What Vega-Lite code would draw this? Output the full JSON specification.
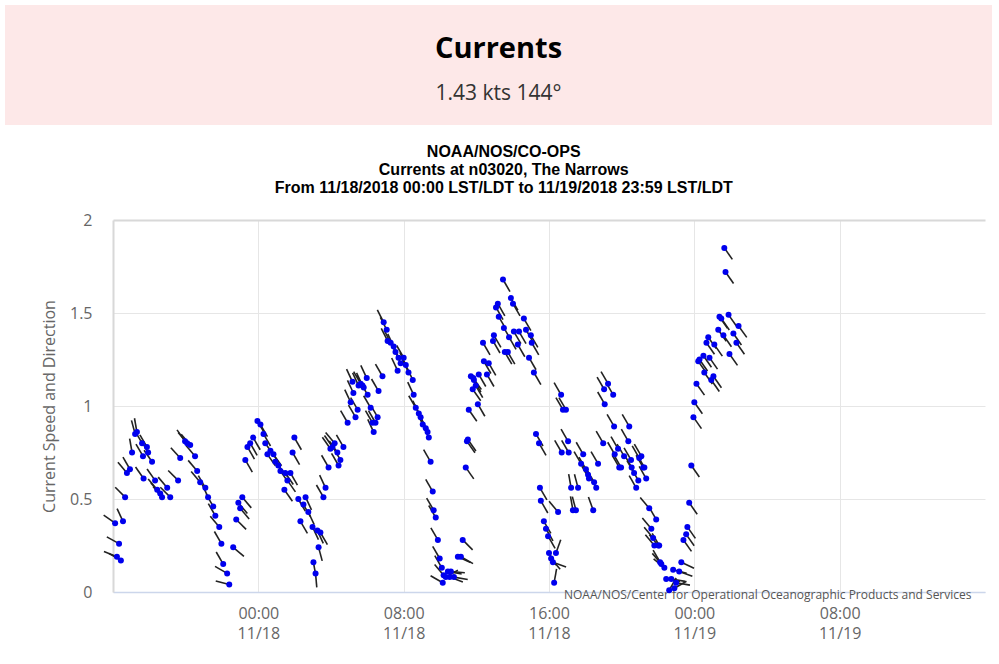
{
"$schema": "https://vega.github.io/schema/vega-lite/v6.json",
"background": "white",
"padding": {"left": 5, "top": 5, "right": 5, "bottom": 5},
"columns": 1,
"bounds": "full",
"spacing": 19,
"config": {"view": {"stroke": null}},
"concat": [
{
 "width": 987, "height": 120,
 "view": {"fill": "#fde8e8", "stroke": null},
 "encoding": {"y": {"field": "role", "type": "nominal", "scale": {"type": "point", "domain": ["title", "reading"], "range": [44, 89], "padding": 0}, "axis": null}},
 "layer": [
  {"data": {"values": [{"role": "title", "label": "Currents"}]}, "mark": {"type": "text", "font": "Open Sans", "fontSize": 29, "fontWeight": "bold", "color": "#000000", "baseline": "middle"}, "encoding": {"text": {"field": "label"}}},
  {"data": {"values": [{"role": "reading", "label": "1.43 kts 144°"}]}, "mark": {"type": "text", "font": "Open Sans", "fontSize": 21, "color": "#333333", "baseline": "middle"}, "encoding": {"text": {"field": "label"}}}
 ]
},
{"spacing": 0, "hconcat": [
{
 "width": 1, "height": 1,
 "view": {"fill": "#ffffff", "stroke": null},
 "data": {"values": []},
 "mark": "point"
},
{
 "width": 872, "height": 372,
 "title": {"text": ["NOAA/NOS/CO-OPS", "Currents at n03020, The Narrows", "From 11/18/2018 00:00 LST/LDT to 11/19/2018 23:59 LST/LDT"], "font": "Liberation Sans", "fontSize": 16, "fontWeight": "bold", "color": "#000000", "lineHeight": 18, "anchor": "middle", "frame": "bounds", "offset": 0, "dx": 8, "baseline": "bottom"},
 "data": {"values": [
{"time":"2018-11-17T16:07","speed":0.37,"dir":305},
{"time":"2018-11-17T16:13","speed":0.19,"dir":292},
{"time":"2018-11-17T16:20","speed":0.26,"dir":299},
{"time":"2018-11-17T16:26","speed":0.17,"dir":300},
{"time":"2018-11-17T16:33","speed":0.38,"dir":335},
{"time":"2018-11-17T16:40","speed":0.51,"dir":315},
{"time":"2018-11-17T16:46","speed":0.64,"dir":320},
{"time":"2018-11-17T16:56","speed":0.66,"dir":330},
{"time":"2018-11-17T17:03","speed":0.75,"dir":350},
{"time":"2018-11-17T17:13","speed":0.85,"dir":345},
{"time":"2018-11-17T17:19","speed":0.86,"dir":350},
{"time":"2018-11-17T17:36","speed":0.80,"dir":330},
{"time":"2018-11-17T17:39","speed":0.73,"dir":330},
{"time":"2018-11-17T17:41","speed":0.61,"dir":325},
{"time":"2018-11-17T17:52","speed":0.78,"dir":330},
{"time":"2018-11-17T17:56","speed":0.75,"dir":330},
{"time":"2018-11-17T18:09","speed":0.70,"dir":325},
{"time":"2018-11-17T18:19","speed":0.60,"dir":325},
{"time":"2018-11-17T18:26","speed":0.55,"dir":320},
{"time":"2018-11-17T18:36","speed":0.53,"dir":318},
{"time":"2018-11-17T18:42","speed":0.51,"dir":320},
{"time":"2018-11-17T18:59","speed":0.56,"dir":320},
{"time":"2018-11-17T19:09","speed":0.51,"dir":315},
{"time":"2018-11-17T19:35","speed":0.60,"dir":315},
{"time":"2018-11-17T19:42","speed":0.72,"dir":318},
{"time":"2018-11-17T19:58","speed":0.81,"dir":325},
{"time":"2018-11-17T20:05","speed":0.80,"dir":320},
{"time":"2018-11-17T20:15","speed":0.79,"dir":320},
{"time":"2018-11-17T20:31","speed":0.73,"dir":320},
{"time":"2018-11-17T20:38","speed":0.65,"dir":320},
{"time":"2018-11-17T20:48","speed":0.59,"dir":320},
{"time":"2018-11-17T21:05","speed":0.56,"dir":330},
{"time":"2018-11-17T21:14","speed":0.51,"dir":335},
{"time":"2018-11-17T21:31","speed":0.46,"dir":330},
{"time":"2018-11-17T21:38","speed":0.41,"dir":330},
{"time":"2018-11-17T21:51","speed":0.35,"dir":320},
{"time":"2018-11-17T21:58","speed":0.26,"dir":330},
{"time":"2018-11-17T22:04","speed":0.15,"dir":330},
{"time":"2018-11-17T22:17","speed":0.10,"dir":300},
{"time":"2018-11-17T22:24","speed":0.04,"dir":285},
{"time":"2018-11-17T22:37","speed":0.24,"dir":130},
{"time":"2018-11-17T22:47","speed":0.39,"dir":135},
{"time":"2018-11-17T22:54","speed":0.48,"dir":140},
{"time":"2018-11-17T23:00","speed":0.45,"dir":140},
{"time":"2018-11-17T23:07","speed":0.51,"dir":140},
{"time":"2018-11-17T23:17","speed":0.71,"dir":150},
{"time":"2018-11-17T23:24","speed":0.78,"dir":150},
{"time":"2018-11-17T23:33","speed":0.80,"dir":150},
{"time":"2018-11-17T23:43","speed":0.83,"dir":150},
{"time":"2018-11-17T23:57","speed":0.92,"dir":150},
{"time":"2018-11-18T00:07","speed":0.90,"dir":150},
{"time":"2018-11-18T00:17","speed":0.85,"dir":150},
{"time":"2018-11-18T00:23","speed":0.80,"dir":145},
{"time":"2018-11-18T00:30","speed":0.74,"dir":145},
{"time":"2018-11-18T00:40","speed":0.76,"dir":145},
{"time":"2018-11-18T00:50","speed":0.74,"dir":145},
{"time":"2018-11-18T00:56","speed":0.70,"dir":145},
{"time":"2018-11-18T01:06","speed":0.68,"dir":140},
{"time":"2018-11-18T01:13","speed":0.65,"dir":145},
{"time":"2018-11-18T01:26","speed":0.55,"dir":145},
{"time":"2018-11-18T01:29","speed":0.64,"dir":145},
{"time":"2018-11-18T01:36","speed":0.60,"dir":145},
{"time":"2018-11-18T01:46","speed":0.64,"dir":150},
{"time":"2018-11-18T01:53","speed":0.75,"dir":150},
{"time":"2018-11-18T01:59","speed":0.83,"dir":150},
{"time":"2018-11-18T02:12","speed":0.50,"dir":150},
{"time":"2018-11-18T02:19","speed":0.38,"dir":150},
{"time":"2018-11-18T02:29","speed":0.47,"dir":150},
{"time":"2018-11-18T02:36","speed":0.51,"dir":155},
{"time":"2018-11-18T02:45","speed":0.43,"dir":155},
{"time":"2018-11-18T02:59","speed":0.35,"dir":155},
{"time":"2018-11-18T03:02","speed":0.16,"dir":170},
{"time":"2018-11-18T03:09","speed":0.10,"dir":175},
{"time":"2018-11-18T03:15","speed":0.33,"dir":155},
{"time":"2018-11-18T03:19","speed":0.24,"dir":165},
{"time":"2018-11-18T03:25","speed":0.32,"dir":150},
{"time":"2018-11-18T03:35","speed":0.51,"dir":330},
{"time":"2018-11-18T03:42","speed":0.56,"dir":335},
{"time":"2018-11-18T03:52","speed":0.67,"dir":330},
{"time":"2018-11-18T03:58","speed":0.77,"dir":325},
{"time":"2018-11-18T04:05","speed":0.78,"dir":325},
{"time":"2018-11-18T04:12","speed":0.80,"dir":320},
{"time":"2018-11-18T04:21","speed":0.75,"dir":325},
{"time":"2018-11-18T04:25","speed":0.68,"dir":330},
{"time":"2018-11-18T04:31","speed":0.71,"dir":330},
{"time":"2018-11-18T04:41","speed":0.78,"dir":330},
{"time":"2018-11-18T04:55","speed":0.91,"dir":330},
{"time":"2018-11-18T05:05","speed":1.02,"dir":335},
{"time":"2018-11-18T05:11","speed":1.13,"dir":335},
{"time":"2018-11-18T05:14","speed":1.07,"dir":335},
{"time":"2018-11-18T05:21","speed":0.94,"dir":330},
{"time":"2018-11-18T05:28","speed":0.98,"dir":330},
{"time":"2018-11-18T05:31","speed":1.11,"dir":335},
{"time":"2018-11-18T05:38","speed":1.12,"dir":330},
{"time":"2018-11-18T05:44","speed":1.11,"dir":335},
{"time":"2018-11-18T05:48","speed":1.10,"dir":330},
{"time":"2018-11-18T05:58","speed":1.15,"dir":335},
{"time":"2018-11-18T06:01","speed":1.06,"dir":330},
{"time":"2018-11-18T06:11","speed":0.99,"dir":330},
{"time":"2018-11-18T06:17","speed":0.91,"dir":330},
{"time":"2018-11-18T06:21","speed":0.86,"dir":335},
{"time":"2018-11-18T06:27","speed":0.91,"dir":330},
{"time":"2018-11-18T06:34","speed":0.94,"dir":330},
{"time":"2018-11-18T06:37","speed":1.08,"dir":330},
{"time":"2018-11-18T06:50","speed":1.16,"dir":330},
{"time":"2018-11-18T06:54","speed":1.45,"dir":333},
{"time":"2018-11-18T07:04","speed":1.41,"dir":333},
{"time":"2018-11-18T07:07","speed":1.35,"dir":333},
{"time":"2018-11-18T07:17","speed":1.34,"dir":333},
{"time":"2018-11-18T07:27","speed":1.32,"dir":335},
{"time":"2018-11-18T07:33","speed":1.29,"dir":335},
{"time":"2018-11-18T07:40","speed":1.19,"dir":335},
{"time":"2018-11-18T07:43","speed":1.26,"dir":335},
{"time":"2018-11-18T07:50","speed":1.23,"dir":335},
{"time":"2018-11-18T08:00","speed":1.26,"dir":330},
{"time":"2018-11-18T08:07","speed":1.22,"dir":335},
{"time":"2018-11-18T08:16","speed":1.18,"dir":335},
{"time":"2018-11-18T08:30","speed":1.14,"dir":335},
{"time":"2018-11-18T08:33","speed":1.06,"dir":335},
{"time":"2018-11-18T08:40","speed":0.99,"dir":330},
{"time":"2018-11-18T08:50","speed":0.96,"dir":335},
{"time":"2018-11-18T08:56","speed":0.94,"dir":335},
{"time":"2018-11-18T09:03","speed":0.90,"dir":335},
{"time":"2018-11-18T09:13","speed":0.88,"dir":335},
{"time":"2018-11-18T09:19","speed":0.86,"dir":335},
{"time":"2018-11-18T09:23","speed":0.83,"dir":335},
{"time":"2018-11-18T09:29","speed":0.70,"dir":330},
{"time":"2018-11-18T09:36","speed":0.54,"dir":330},
{"time":"2018-11-18T09:39","speed":0.44,"dir":330},
{"time":"2018-11-18T09:46","speed":0.40,"dir":330},
{"time":"2018-11-18T09:53","speed":0.28,"dir":330},
{"time":"2018-11-18T09:59","speed":0.18,"dir":330},
{"time":"2018-11-18T10:06","speed":0.13,"dir":330},
{"time":"2018-11-18T10:09","speed":0.05,"dir":300},
{"time":"2018-11-18T10:12","speed":0.09,"dir":320},
{"time":"2018-11-18T10:19","speed":0.08,"dir":60},
{"time":"2018-11-18T10:26","speed":0.11,"dir":100},
{"time":"2018-11-18T10:32","speed":0.08,"dir":110},
{"time":"2018-11-18T10:36","speed":0.11,"dir":95},
{"time":"2018-11-18T10:46","speed":0.08,"dir":100},
{"time":"2018-11-18T10:59","speed":0.19,"dir":115},
{"time":"2018-11-18T11:09","speed":0.19,"dir":120},
{"time":"2018-11-18T11:15","speed":0.28,"dir":135},
{"time":"2018-11-18T11:25","speed":0.67,"dir":145},
{"time":"2018-11-18T11:29","speed":0.81,"dir":145},
{"time":"2018-11-18T11:32","speed":0.82,"dir":145},
{"time":"2018-11-18T11:35","speed":0.98,"dir":145},
{"time":"2018-11-18T11:42","speed":1.16,"dir":145},
{"time":"2018-11-18T11:48","speed":1.09,"dir":145},
{"time":"2018-11-18T11:50","speed":1.15,"dir":145},
{"time":"2018-11-18T11:52","speed":1.14,"dir":150},
{"time":"2018-11-18T11:58","speed":1.11,"dir":150},
{"time":"2018-11-18T12:05","speed":1.01,"dir":150},
{"time":"2018-11-18T12:08","speed":1.17,"dir":150},
{"time":"2018-11-18T12:22","speed":1.34,"dir":150},
{"time":"2018-11-18T12:25","speed":1.24,"dir":150},
{"time":"2018-11-18T12:35","speed":1.17,"dir":150},
{"time":"2018-11-18T12:41","speed":1.23,"dir":150},
{"time":"2018-11-18T12:55","speed":1.35,"dir":150},
{"time":"2018-11-18T12:58","speed":1.38,"dir":150},
{"time":"2018-11-18T13:05","speed":1.53,"dir":150},
{"time":"2018-11-18T13:11","speed":1.55,"dir":150},
{"time":"2018-11-18T13:14","speed":1.48,"dir":150},
{"time":"2018-11-18T13:28","speed":1.68,"dir":150},
{"time":"2018-11-18T13:31","speed":1.42,"dir":150},
{"time":"2018-11-18T13:34","speed":1.29,"dir":150},
{"time":"2018-11-18T13:44","speed":1.29,"dir":150},
{"time":"2018-11-18T13:48","speed":1.37,"dir":150},
{"time":"2018-11-18T13:54","speed":1.58,"dir":150},
{"time":"2018-11-18T14:01","speed":1.55,"dir":150},
{"time":"2018-11-18T14:04","speed":1.40,"dir":150},
{"time":"2018-11-18T14:17","speed":1.33,"dir":150},
{"time":"2018-11-18T14:21","speed":1.40,"dir":150},
{"time":"2018-11-18T14:37","speed":1.47,"dir":150},
{"time":"2018-11-18T14:44","speed":1.41,"dir":150},
{"time":"2018-11-18T14:54","speed":1.26,"dir":150},
{"time":"2018-11-18T15:00","speed":1.38,"dir":150},
{"time":"2018-11-18T15:03","speed":1.34,"dir":150},
{"time":"2018-11-18T15:10","speed":1.18,"dir":150},
{"time":"2018-11-18T15:17","speed":0.85,"dir":150},
{"time":"2018-11-18T15:27","speed":0.80,"dir":150},
{"time":"2018-11-18T15:30","speed":0.56,"dir":150},
{"time":"2018-11-18T15:33","speed":0.49,"dir":150},
{"time":"2018-11-18T15:43","speed":0.38,"dir":150},
{"time":"2018-11-18T15:50","speed":0.34,"dir":150},
{"time":"2018-11-18T15:57","speed":0.30,"dir":150},
{"time":"2018-11-18T16:00","speed":0.21,"dir":150},
{"time":"2018-11-18T16:07","speed":0.18,"dir":140},
{"time":"2018-11-18T16:13","speed":0.16,"dir":110},
{"time":"2018-11-18T16:17","speed":0.05,"dir":10},
{"time":"2018-11-18T16:23","speed":0.21,"dir":20},
{"time":"2018-11-18T16:30","speed":0.43,"dir":320},
{"time":"2018-11-18T16:40","speed":1.06,"dir":330},
{"time":"2018-11-18T16:42","speed":0.75,"dir":330},
{"time":"2018-11-18T16:46","speed":0.98,"dir":330},
{"time":"2018-11-18T16:56","speed":0.98,"dir":330},
{"time":"2018-11-18T17:03","speed":0.81,"dir":330},
{"time":"2018-11-18T17:05","speed":0.75,"dir":330},
{"time":"2018-11-18T17:13","speed":0.56,"dir":350},
{"time":"2018-11-18T17:19","speed":0.44,"dir":350},
{"time":"2018-11-18T17:29","speed":0.44,"dir":345},
{"time":"2018-11-18T17:36","speed":0.56,"dir":345},
{"time":"2018-11-18T17:46","speed":0.69,"dir":330},
{"time":"2018-11-18T17:53","speed":0.74,"dir":330},
{"time":"2018-11-18T18:02","speed":0.66,"dir":330},
{"time":"2018-11-18T18:09","speed":0.63,"dir":330},
{"time":"2018-11-18T18:12","speed":0.61,"dir":330},
{"time":"2018-11-18T18:26","speed":0.44,"dir":340},
{"time":"2018-11-18T18:29","speed":0.59,"dir":330},
{"time":"2018-11-18T18:36","speed":0.56,"dir":330},
{"time":"2018-11-18T18:42","speed":0.69,"dir":330},
{"time":"2018-11-18T18:59","speed":0.80,"dir":330},
{"time":"2018-11-18T19:02","speed":1.09,"dir":330},
{"time":"2018-11-18T19:04","speed":1.01,"dir":330},
{"time":"2018-11-18T19:15","speed":1.12,"dir":330},
{"time":"2018-11-18T19:32","speed":1.06,"dir":330},
{"time":"2018-11-18T19:35","speed":0.89,"dir":330},
{"time":"2018-11-18T19:37","speed":0.74,"dir":330},
{"time":"2018-11-18T19:48","speed":0.77,"dir":330},
{"time":"2018-11-18T19:52","speed":0.67,"dir":330},
{"time":"2018-11-18T19:58","speed":0.67,"dir":330},
{"time":"2018-11-18T20:08","speed":0.73,"dir":330},
{"time":"2018-11-18T20:22","speed":0.81,"dir":330},
{"time":"2018-11-18T20:25","speed":0.89,"dir":330},
{"time":"2018-11-18T20:31","speed":0.71,"dir":330},
{"time":"2018-11-18T20:33","speed":0.67,"dir":330},
{"time":"2018-11-18T20:41","speed":0.64,"dir":330},
{"time":"2018-11-18T20:48","speed":0.56,"dir":330},
{"time":"2018-11-18T20:55","speed":0.60,"dir":330},
{"time":"2018-11-18T20:58","speed":0.72,"dir":330},
{"time":"2018-11-18T21:05","speed":0.73,"dir":330},
{"time":"2018-11-18T21:11","speed":0.67,"dir":330},
{"time":"2018-11-18T21:15","speed":0.67,"dir":330},
{"time":"2018-11-18T21:21","speed":0.61,"dir":330},
{"time":"2018-11-18T21:31","speed":0.45,"dir":320},
{"time":"2018-11-18T21:38","speed":0.34,"dir":320},
{"time":"2018-11-18T21:44","speed":0.29,"dir":320},
{"time":"2018-11-18T21:48","speed":0.25,"dir":320},
{"time":"2018-11-18T21:54","speed":0.39,"dir":330},
{"time":"2018-11-18T22:01","speed":0.25,"dir":320},
{"time":"2018-11-18T22:04","speed":0.25,"dir":330},
{"time":"2018-11-18T22:07","speed":0.16,"dir":330},
{"time":"2018-11-18T22:11","speed":0.15,"dir":320},
{"time":"2018-11-18T22:21","speed":0.13,"dir":310},
{"time":"2018-11-18T22:27","speed":0.07,"dir":100},
{"time":"2018-11-18T22:37","speed":0.01,"dir":30},
{"time":"2018-11-18T22:44","speed":0.07,"dir":100},
{"time":"2018-11-18T22:50","speed":0.12,"dir":105},
{"time":"2018-11-18T22:54","speed":0.02,"dir":60},
{"time":"2018-11-18T23:00","speed":0.05,"dir":100},
{"time":"2018-11-18T23:10","speed":0.11,"dir":110},
{"time":"2018-11-18T23:17","speed":0.16,"dir":115},
{"time":"2018-11-18T23:24","speed":0.28,"dir":145},
{"time":"2018-11-18T23:33","speed":0.31,"dir":145},
{"time":"2018-11-18T23:37","speed":0.35,"dir":145},
{"time":"2018-11-18T23:43","speed":0.48,"dir":145},
{"time":"2018-11-18T23:50","speed":0.68,"dir":145},
{"time":"2018-11-18T23:57","speed":0.94,"dir":145},
{"time":"2018-11-19T00:00","speed":1.02,"dir":145},
{"time":"2018-11-19T00:07","speed":1.12,"dir":145},
{"time":"2018-11-19T00:13","speed":1.24,"dir":145},
{"time":"2018-11-19T00:17","speed":1.25,"dir":145},
{"time":"2018-11-19T00:30","speed":1.27,"dir":145},
{"time":"2018-11-19T00:33","speed":1.18,"dir":145},
{"time":"2018-11-19T00:40","speed":1.34,"dir":145},
{"time":"2018-11-19T00:46","speed":1.37,"dir":145},
{"time":"2018-11-19T00:50","speed":1.26,"dir":145},
{"time":"2018-11-19T00:56","speed":1.14,"dir":145},
{"time":"2018-11-19T01:03","speed":1.16,"dir":145},
{"time":"2018-11-19T01:06","speed":1.33,"dir":145},
{"time":"2018-11-19T01:19","speed":1.41,"dir":145},
{"time":"2018-11-19T01:23","speed":1.48,"dir":145},
{"time":"2018-11-19T01:29","speed":1.47,"dir":145},
{"time":"2018-11-19T01:36","speed":1.38,"dir":145},
{"time":"2018-11-19T01:39","speed":1.85,"dir":145},
{"time":"2018-11-19T01:43","speed":1.72,"dir":145},
{"time":"2018-11-19T01:53","speed":1.49,"dir":145},
{"time":"2018-11-19T01:56","speed":1.28,"dir":145},
{"time":"2018-11-19T02:09","speed":1.39,"dir":145},
{"time":"2018-11-19T02:19","speed":1.34,"dir":145},
{"time":"2018-11-19T02:26","speed":1.43,"dir":144}
 ]},
 "encoding": {
  "x": {"field": "time", "type": "temporal",
   "scale": {"domain": [{"year": 2018, "month": 11, "date": 17, "hours": 16}, {"year": 2018, "month": 11, "date": 19, "hours": 16}]},
   "axis": {
    "values": [{"year": 2018, "month": 11, "date": 18, "hours": 0}, {"year": 2018, "month": 11, "date": 18, "hours": 8}, {"year": 2018, "month": 11, "date": 18, "hours": 16}, {"year": 2018, "month": 11, "date": 19, "hours": 0}, {"year": 2018, "month": 11, "date": 19, "hours": 8}],
    "labelExpr": "[timeFormat(datum.value, '%H:%M'), timeFormat(datum.value, '%m/%d')]",
    "labelFont": "Open Sans", "labelFontSize": 16, "labelColor": "#666666", "labelLineHeight": 20, "labelPadding": 13,
    "labelFlush": false, "labelOverlap": false,
    "ticks": false, "tickSize": 0,
    "domainColor": "#ccd6eb", "domainWidth": 1.5,
    "grid": true, "gridColor": "#e6e6e6", "gridWidth": 1,
    "title": "NOAA/NOS/Center for Operational Oceanographic Products and Services",
    "titleFont": "Open Sans", "titleFontSize": 12, "titleFontWeight": "normal", "titleColor": "#555555",
    "titleAlign": "right", "titleBaseline": "alphabetic", "titleX": 858, "titleY": 6
   }},
  "y": {"field": "speed", "type": "quantitative",
   "scale": {"domain": [0, 2]},
   "axis": {
    "values": [0, 0.5, 1, 1.5, 2], "format": "~g",
    "title": [" ", "Current Speed and Direction"], "titleLineHeight": 35,
    "titleFont": "Open Sans", "titleFontSize": 16, "titleFontWeight": "normal", "titleColor": "#666666", "titlePadding": 12,
    "labelFont": "Open Sans", "labelFontSize": 16, "labelColor": "#666666", "labelPadding": 21,
    "ticks": false, "tickSize": 0,
    "domain": true, "domainColor": "#d8d8d8", "domainWidth": 2,
    "grid": true,
    "gridColor": {"condition": {"test": "datum.value == 2", "value": "#d8d8d8"}, "value": "#e6e6e6"},
    "gridWidth": {"condition": {"test": "datum.value == 2", "value": 2}, "value": 1}
   }}
 },
 "layer": [
  {"mark": {"type": "point", "shape": "M0,0L0,-1", "filled": false, "size": 784, "stroke": "#222222", "strokeWidth": 1.6, "opacity": 1},
   "encoding": {"angle": {"field": "dir", "type": "quantitative", "scale": null}}},
  {"mark": {"type": "circle", "size": 36, "color": "#0000ee", "opacity": 1}}
 ]
}
]}
]
}
